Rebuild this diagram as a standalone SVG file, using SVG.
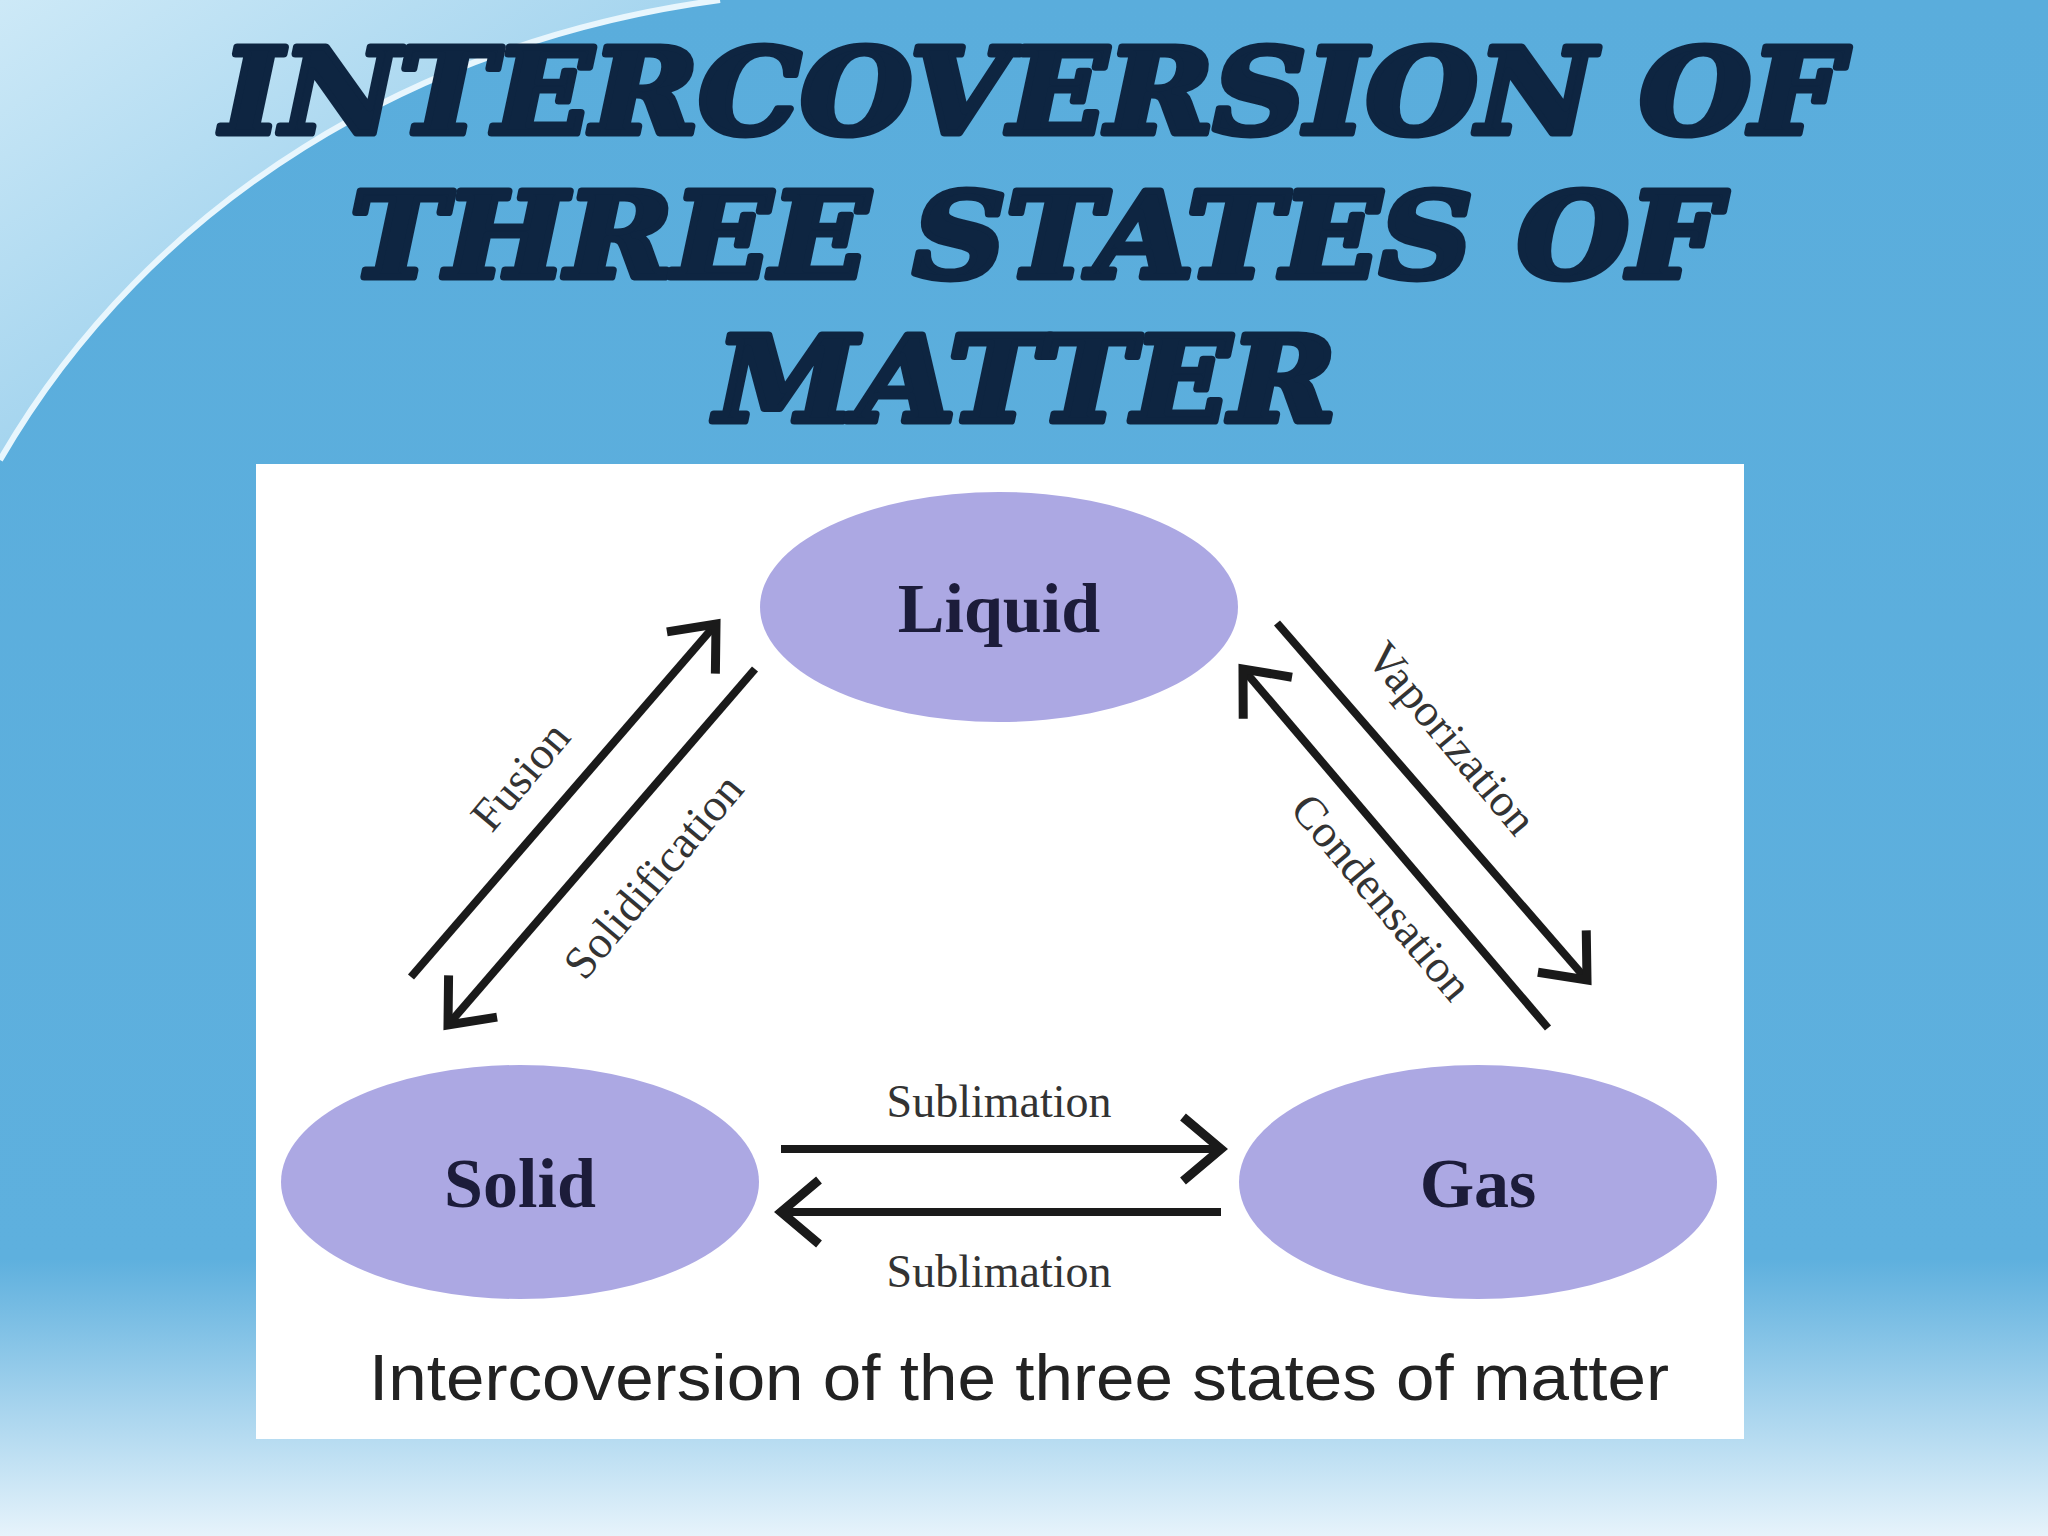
<svg xmlns="http://www.w3.org/2000/svg" width="2048" height="1536" viewBox="0 0 2048 1536">
<defs>
<linearGradient id="bg" x1="0" y1="0" x2="0" y2="1">
<stop offset="0" stop-color="#5aaddc"/><stop offset="0.82" stop-color="#5eb0de"/><stop offset="1" stop-color="#e6f3fb"/>
</linearGradient>
<linearGradient id="sw" x1="0" y1="0" x2="1" y2="1">
<stop offset="0" stop-color="#cde9f7"/><stop offset="1" stop-color="#7cc0e6"/>
</linearGradient>
<marker id="ah" viewBox="0 0 20 20" refX="16" refY="10" markerWidth="20" markerHeight="20" markerUnits="userSpaceOnUse" orient="auto" overflow="visible">
<polyline points="-22,-22 16,10 -22,42" fill="none" stroke="#1a1a1a" stroke-width="9"/>
</marker>
<style>
.t{font-family:"DejaVu Serif","Liberation Serif",serif;font-weight:bold;font-style:italic;font-size:118px;fill:#0e2541;stroke:#0e2541;stroke-width:7;stroke-linejoin:round;text-anchor:middle}
.n{font-family:"Liberation Serif",serif;font-weight:bold;font-size:70px;fill:#1c1c3a;text-anchor:middle}
.l{font-family:"Liberation Serif",serif;font-size:46px;fill:#333;text-anchor:middle}
.c{fill:#aca8e3}
.a{stroke:#1a1a1a;stroke-width:8;fill:none;marker-end:url(#ah)}
</style>
</defs>
<rect width="2048" height="1536" fill="url(#bg)"/>
<path d="M0,0 L720,0 C420,40 150,200 0,460 Z" fill="url(#sw)"/>
<path d="M0,460 C150,200 420,40 720,0" fill="none" stroke="#e8f6fd" stroke-width="6"/>
<g id="title">
<text class="t" x="1032" y="133" textLength="1620" lengthAdjust="spacingAndGlyphs">INTERCOVERSION OF</text>
<text class="t" x="1035" y="277" textLength="1370" lengthAdjust="spacingAndGlyphs">THREE STATES OF</text>
<text class="t" x="1026" y="421" textLength="620" lengthAdjust="spacingAndGlyphs">MATTER</text>
</g>
<rect x="256" y="464" width="1488" height="975" fill="#fff"/>
<g id="liquid"><ellipse class="c" cx="999" cy="607" rx="239" ry="115"/><text class="n" x="999" y="632">Liquid</text></g>
<g id="solid"><ellipse class="c" cx="520" cy="1182" rx="239" ry="117"/><text class="n" x="520" y="1207">Solid</text></g>
<g id="gas"><ellipse class="c" cx="1478" cy="1182" rx="239" ry="117"/><text class="n" x="1478" y="1207">Gas</text></g>
<g id="connectors">
<line class="a" x1="411" y1="977" x2="716" y2="624"/>
<line class="a" x1="755" y1="669" x2="448" y2="1025"/>
<line class="a" x1="1277" y1="623" x2="1587" y2="980"/>
<line class="a" x1="1548" y1="1028" x2="1243" y2="669"/>
<line class="a" x1="781" y1="1149" x2="1221" y2="1149"/>
<line class="a" x1="1221" y1="1212" x2="781" y2="1212"/>
<text class="l" transform="translate(532,786) rotate(-50)">Fusion</text>
<text class="l" transform="translate(665,886) rotate(-50)">Solidification</text>
<text class="l" transform="translate(1440,748) rotate(50)">Vaporization</text>
<text class="l" transform="translate(1370,907) rotate(50)">Condensation</text>
<text class="l" x="999" y="1117">Sublimation</text>
<text class="l" x="999" y="1287">Sublimation</text>
</g>
<text x="1019" y="1400" font-family="Liberation Sans Narrow,Liberation Sans,sans-serif" font-size="64" fill="#222" text-anchor="middle" textLength="1300" lengthAdjust="spacingAndGlyphs">Intercoversion of the three states of matter</text>
</svg>
